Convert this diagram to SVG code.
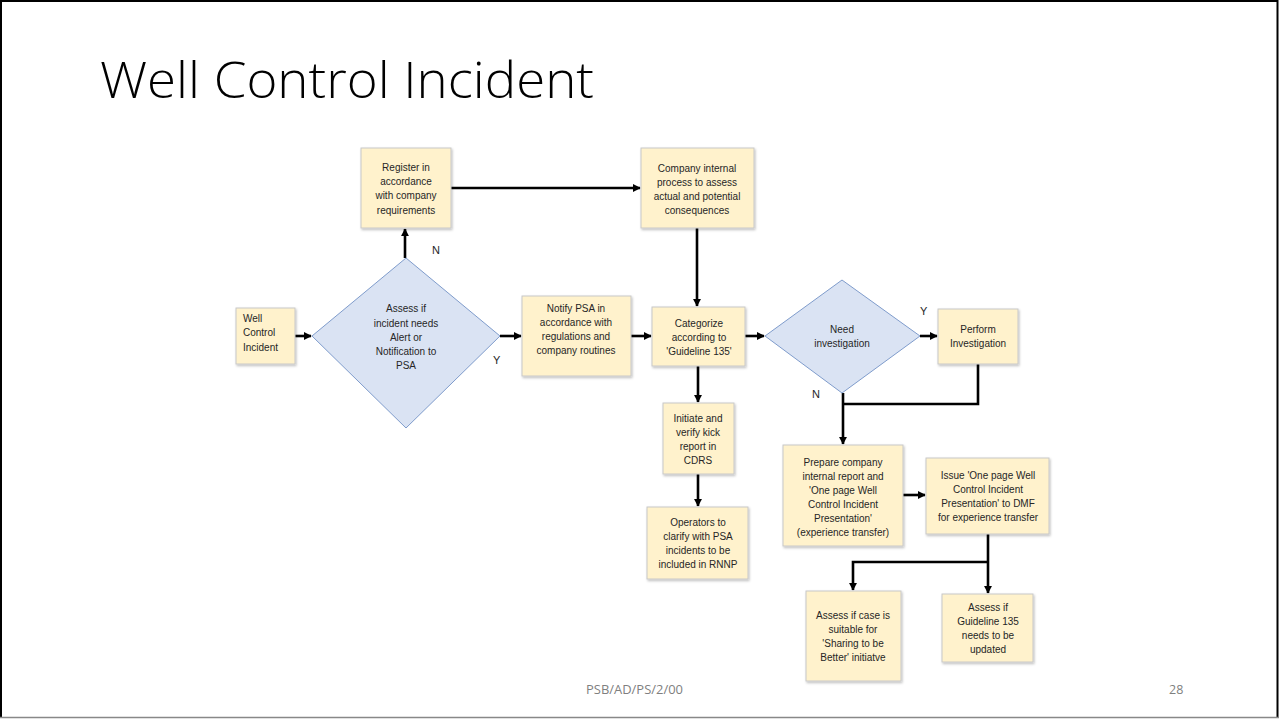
<svg xmlns="http://www.w3.org/2000/svg" width="1279" height="719" viewBox="0 0 1279 719">
<defs>
<marker id="ah" viewBox="0 0 10 10" refX="9" refY="5" markerWidth="3.2" markerHeight="3.2" orient="auto" markerUnits="strokeWidth">
<path d="M0,0 L10,5 L0,10 z" fill="#000"/>
</marker>
<filter id="sh" x="-10%" y="-10%" width="130%" height="130%">
<feDropShadow dx="1" dy="1.5" stdDeviation="0.8" flood-color="#000" flood-opacity="0.25"/>
</filter>
</defs>
<style>
.box{fill:#fff2cc;stroke:#c8c8c8;stroke-width:1;filter:url(#sh)}
.dia{fill:#dae3f3;stroke:#7f9ccc;stroke-width:1}
.t{font-family:"Liberation Sans",Arial,sans-serif;font-size:10px;fill:#262626;text-anchor:middle}
.tl{font-family:"Liberation Sans",Arial,sans-serif;font-size:10px;fill:#262626}
.lab{font-family:"Liberation Sans",Arial,sans-serif;font-size:11px;fill:#262626}
.c{fill:none;stroke:#000;stroke-width:2.6;marker-end:url(#ah)}
.cn{fill:none;stroke:#000;stroke-width:2.6}
</style>
<rect x="0" y="0" width="1279" height="719" fill="#fff"/>
<path d="M1,718 L1,1 L1277.5,1 L1277.5,718" fill="none" stroke="#000" stroke-width="2"/>
<line x1="0" y1="717.5" x2="1279" y2="717.5" stroke="#888" stroke-width="1.5"/>
<text x="100" y="98" font-family="'Open Sans','Liberation Sans',sans-serif" font-weight="300" font-size="50" fill="#000" textLength="494" lengthAdjust="spacingAndGlyphs">Well Control Incident</text>

<g id="connectors">
<line class="c" x1="295" y1="336" x2="311" y2="336"/>
<line class="c" x1="405" y1="258" x2="405" y2="229"/>
<line class="c" x1="451" y1="188" x2="640" y2="188"/>
<line class="c" x1="500" y1="336" x2="521" y2="336"/>
<line class="c" x1="631" y1="336" x2="651" y2="336"/>
<line class="c" x1="697" y1="228" x2="697" y2="306"/>
<line class="c" x1="745" y1="336" x2="764" y2="336"/>
<line class="c" x1="920" y1="336" x2="937" y2="336"/>
<line class="c" x1="698" y1="366" x2="698" y2="402"/>
<line class="c" x1="698" y1="474" x2="698" y2="506"/>
<line class="c" x1="843" y1="393" x2="843" y2="444"/>
<polyline class="cn" points="978,364 978,404 843,404"/>
<line class="c" x1="903" y1="495" x2="925" y2="495"/>
<line class="c" x1="988" y1="534" x2="988" y2="593"/>
<polyline class="c" points="988,562 853,562 853,590"/>
</g>

<g id="n_wci"><rect class="box" x="236" y="308" width="59" height="56"/>
<text class="tl" x="243" y="321.5">Well</text><text class="tl" x="243" y="335.5">Control</text><text class="tl" x="243" y="350.5">Incident</text></g>

<g id="n_register"><rect class="box" x="361" y="148" width="90" height="80"/>
<text class="t" x="406" y="170.5">Register in</text><text class="t" x="406" y="185">accordance</text><text class="t" x="406" y="199">with company</text><text class="t" x="406" y="213.5">requirements</text></g>

<g id="n_assess"><polygon class="dia" points="406,258 500,336 406,428 312,336"/>
<text class="t" x="406" y="311.5">Assess if</text><text class="t" x="406" y="326.5">incident needs</text><text class="t" x="406" y="340.5">Alert or</text><text class="t" x="406" y="354.5">Notification to</text><text class="t" x="406" y="368.5">PSA</text></g>

<g id="n_notify"><rect class="box" x="522" y="296" width="109" height="80"/>
<text class="t" x="576" y="311.5">Notify PSA in</text><text class="t" x="576" y="325.5">accordance with</text><text class="t" x="576" y="339.5">regulations and</text><text class="t" x="576" y="353.5">company routines</text></g>

<g id="n_company"><rect class="box" x="641" y="148" width="113" height="80"/>
<text class="t" x="697" y="171.5">Company internal</text><text class="t" x="697" y="185.5">process to assess</text><text class="t" x="697" y="199.5">actual and potential</text><text class="t" x="697" y="213.5">consequences</text></g>

<g id="n_categorize"><rect class="box" x="652" y="307" width="93" height="59"/>
<text class="t" x="699" y="326.5">Categorize</text><text class="t" x="699" y="340.5">according to</text><text class="t" x="699" y="354.5">'Guideline 135'</text></g>

<g id="n_need"><polygon class="dia" points="842,280 920,336 842,393 765,336"/>
<text class="t" x="842" y="332.5">Need</text><text class="t" x="842" y="346.5">investigation</text></g>

<g id="n_perform"><rect class="box" x="938" y="309" width="80" height="55"/>
<text class="t" x="978" y="332.5">Perform</text><text class="t" x="978" y="346.5">Investigation</text></g>

<g id="n_initiate"><rect class="box" x="663" y="403" width="71" height="71"/>
<text class="t" x="698" y="421.5">Initiate and</text><text class="t" x="698" y="435.5">verify kick</text><text class="t" x="698" y="449.5">report in</text><text class="t" x="698" y="463.5">CDRS</text></g>

<g id="n_operators"><rect class="box" x="647" y="507" width="101" height="72"/>
<text class="t" x="698" y="525.5">Operators to</text><text class="t" x="698" y="539.5">clarify with PSA</text><text class="t" x="698" y="553.5">incidents to be</text><text class="t" x="698" y="567.5">included in RNNP</text></g>

<g id="n_prepare"><rect class="box" x="783" y="445" width="120" height="101"/>
<text class="t" x="843" y="465.5">Prepare company</text><text class="t" x="843" y="479.5">internal report and</text><text class="t" x="843" y="493.5">'One page Well</text><text class="t" x="843" y="507.5">Control Incident</text><text class="t" x="843" y="521.5">Presentation'</text><text class="t" x="843" y="535.5">(experience transfer)</text></g>

<g id="n_issue"><rect class="box" x="926" y="458" width="123" height="76"/>
<text class="t" x="988" y="478.5">Issue 'One page Well</text><text class="t" x="988" y="492.5">Control Incident</text><text class="t" x="988" y="506.5">Presentation' to DMF</text><text class="t" x="988" y="520.5">for experience transfer</text></g>

<g id="n_sharing"><rect class="box" x="806" y="591" width="95" height="90"/>
<text class="t" x="853" y="618.5">Assess if case is</text><text class="t" x="853" y="632.5">suitable for</text><text class="t" x="853" y="646.5">'Sharing to be</text><text class="t" x="853" y="660.5">Better' initiatve</text></g>

<g id="n_guideline"><rect class="box" x="942" y="594" width="91" height="68"/>
<text class="t" x="988" y="610.5">Assess if</text><text class="t" x="988" y="624.5">Guideline 135</text><text class="t" x="988" y="638.5">needs to be</text><text class="t" x="988" y="652.5">updated</text></g>

<g id="labels">
<text class="lab" x="432" y="254">N</text>
<text class="lab" x="493" y="364">Y</text>
<text class="lab" x="920" y="315">Y</text>
<text class="lab" x="812" y="398">N</text>
</g>

<text x="586" y="694" font-family="'Open Sans','Liberation Sans',sans-serif" font-size="12.5" fill="#7f7f7f" textLength="97" lengthAdjust="spacingAndGlyphs">PSB/AD/PS/2/00</text>
<text x="1169" y="694" font-family="'Open Sans','Liberation Sans',sans-serif" font-size="12.5" fill="#7f7f7f">28</text>
</svg>
